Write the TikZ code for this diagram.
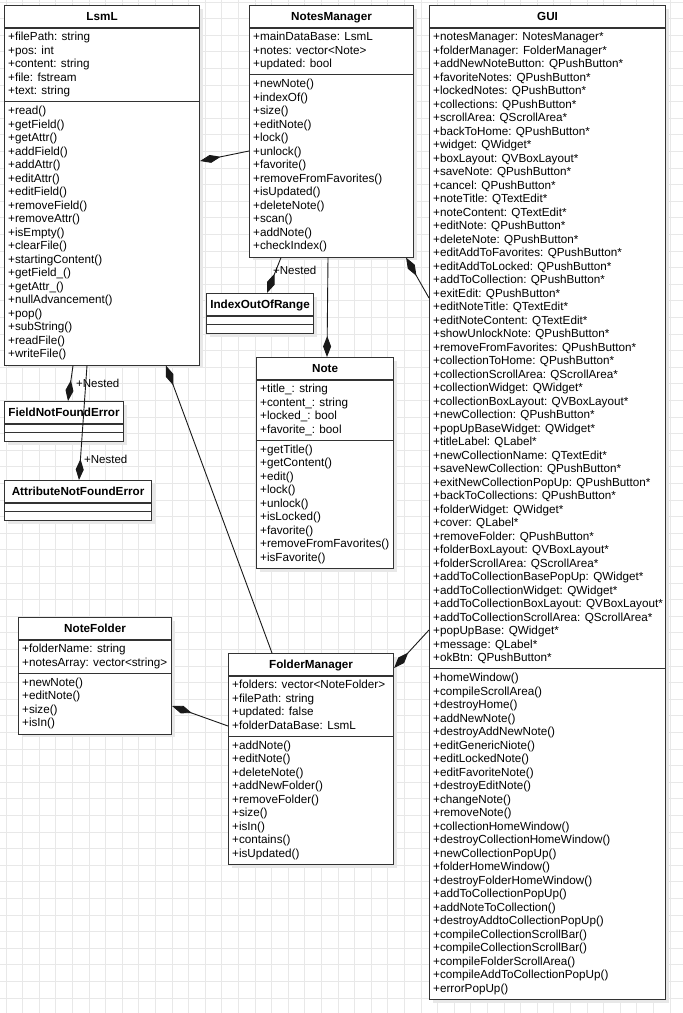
\documentclass[tikz,border=0pt]{standalone}
\usepackage{fontspec}
\setmainfont{Liberation Sans}
\usetikzlibrary{arrows.meta,shadows}

\tikzset{
  gridline/.style={draw=black!9, line width=0.7pt},
  classbox/.style={draw=black!80, line width=1.1pt, fill=white, anchor=north west,
    inner sep=0pt, drop shadow={shadow xshift=3pt, shadow yshift=-3pt, fill=black!9, opacity=1}},
  sepline/.style={draw=black!80, line width=1.1pt},
  member/.style={font=\fontsize{11.7pt}{13.5pt}\selectfont, inner sep=0pt, anchor=base west, text=black},
  classtitle/.style={font=\fontsize{11.7pt}{13.5pt}\selectfont\bfseries, inner sep=0pt, anchor=base, text=black},
  compose/.style={draw=black!90, line width=0.9pt, -{Diamond[length=21pt, width=8pt]}},
  tag/.style={font=\fontsize{11.5pt}{13.5pt}\selectfont, inner sep=0pt, anchor=west, text=black},
}

% UML class: name, x, y, width, title, attributes, operations
\newcommand\umlclass[7]{%
  \foreach \entry [count=\i] in {#6} {\xdef\umlna{\i}}%
  \foreach \entry [count=\i] in {#7} {\xdef\umlnm{\i}}%
  \pgfmathsetmacro\umlha{\umlna*13.5+6.25}%
  \pgfmathsetmacro\umlhm{\umlnm*13.5+6.25}%
  \pgfmathsetmacro\umlht{23+\umlha+\umlhm}%
  \node[classbox, minimum width=#4pt, minimum height=\umlht pt] (#1) at (#2,#3) {};
  \node[classtitle] (#1-title) at ([yshift=-15.5pt]#1.north) {#5};
  \draw[sepline] ([yshift=-23pt]#1.north west) -- ([yshift=-23pt]#1.north east);
  \draw[sepline] ([yshift={-(23+\umlha)}]#1.north west) -- ([yshift={-(23+\umlha)}]#1.north east);
  \foreach \entry [count=\i] in {#6}
    \node[member] (#1-a\i) at ([xshift=4pt, yshift={-(35.75+(\i-1)*13.5)}]#1.north west) {\entry};
  \foreach \entry [count=\i] in {#7}
    \node[member] (#1-m\i) at ([xshift=4pt, yshift={-(35.75+\umlha+(\i-1)*13.5)}]#1.north west) {\entry};
}

% UML class with empty compartments: name, x, y, width, title
\newcommand\umlempty[5]{%
  \node[classbox, minimum width=#4pt, minimum height=40pt] (#1) at (#2,#3) {};
  \node[classtitle] (#1-title) at ([yshift=-15.5pt]#1.north) {#5};
  \draw[sepline] ([yshift=-23pt]#1.north west) -- ([yshift=-23pt]#1.north east);
  \draw[sepline] ([yshift=-31.5pt]#1.north west) -- ([yshift=-31.5pt]#1.north east);
}

\begin{document}
\begin{tikzpicture}[x=1pt, y=-1pt]
\useasboundingbox (0,0) rectangle (683,1013);
\fill[white] (0,0) rectangle (683,1013);

% background grid
\foreach \k in {0,...,40} \draw[gridline] (6+\k*16.6, 0) -- (6+\k*16.6, 1013);
\foreach \k in {0,...,60} \draw[gridline] (0, 2+\k*16.6) -- (683, 2+\k*16.6);

\umlclass{lsml}{4}{5}{195}{LsmL}
  {+filePath: string, +pos: int, +content: string, +file: fstream, +text: string}
  {+read(), +getField(), +getAttr(), +addField(), +addAttr(), +editAttr(), +editField(),
   +removeField(), +removeAttr(), +isEmpty(), +clearFile(), +startingContent(),
   +getField\_(), +getAttr\_(), +nullAdvancement(), +pop(), +subString(), +readFile(), +writeFile()}

\umlclass{nm}{249}{5}{164}{NotesManager}
  {+mainDataBase: LsmL, +notes: vector<Note>, +updated: bool}
  {+newNote(), +indexOf(), +size(), +editNote(), +lock(), +unlock(), +favorite(),
   +removeFromFavorites(), +isUpdated(), +deleteNote(), +scan(), +addNote(), +checkIndex()}

\umlclass{gui}{429}{5}{236}{GUI}
  {+notesManager: NotesManager*, +folderManager: FolderManager*,
   +addNewNoteButton: QPushButton*, +favoriteNotes: QPushButton*, +lockedNotes: QPushButton*,
   +collections: QPushButton*, +scrollArea: QScrollArea*, +backToHome: QPushButton*,
   +widget: QWidget*, +boxLayout: QVBoxLayout*, +saveNote: QPushButton*, +cancel: QPushButton*,
   +noteTitle: QTextEdit*, +noteContent: QTextEdit*, +editNote: QPushButton*,
   +deleteNote: QPushButton*, +editAddToFavorites: QPushButton*, +editAddToLocked: QPushButton*,
   +addToCollection: QPushButton*, +exitEdit: QPushButton*, +editNoteTitle: QTextEdit*,
   +editNoteContent: QTextEdit*, +showUnlockNote: QPushButton*, +removeFromFavorites: QPushButton*,
   +collectionToHome: QPushButton*, +collectionScrollArea: QScrollArea*,
   +collectionWidget: QWidget*, +collectionBoxLayout: QVBoxLayout*, +newCollection: QPushButton*,
   +popUpBaseWidget: QWidget*, +titleLabel: QLabel*, +newCollectionName: QTextEdit*,
   +saveNewCollection: QPushButton*, +exitNewCollectionPopUp: QPushButton*,
   +backToCollections: QPushButton*, +folderWidget: QWidget*, +cover: QLabel*,
   +removeFolder: QPushButton*, +folderBoxLayout: QVBoxLayout*, +folderScrollArea: QScrollArea*,
   +addToCollectionBasePopUp: QWidget*, +addToCollectionWidget: QWidget*,
   +addToCollectionBoxLayout: QVBoxLayout*, +addToCollectionScrollArea: QScrollArea*,
   +popUpBase: QWidget*, +message: QLabel*, +okBtn: QPushButton*}
  {+homeWindow(), +compileScrollArea(), +destroyHome(), +addNewNote(), +destroyAddNewNote(),
   +editGenericNiote(), +editLockedNote(), +editFavoriteNote(), +destroyEditNote(),
   +changeNote(), +removeNote(), +collectionHomeWindow(), +destroyCollectionHomeWindow(),
   +newCollectionPopUp(), +folderHomeWindow(), +destroyFolderHomeWindow(),
   +addToCollectionPopUp(), +addNoteToCollection(), +destroyAddtoCollectionPopUp(),
   +compileCollectionScrollBar(), +compileCollectionScrollBar(), +compileFolderScrollArea(),
   +compileAddToCollectionPopUp(), +errorPopUp()}

\umlclass{note}{256}{357}{137}{Note}
  {+title\_: string, +content\_: string, +locked\_: bool, +favorite\_: bool}
  {+getTitle(), +getContent(), +edit(), +lock(), +unlock(), +isLocked(), +favorite(),
   +removeFromFavorites(), +isFavorite()}

\umlclass{notefolder}{18}{617}{153}{NoteFolder}
  {+folderName: string, +notesArray: vector<string>}
  {+newNote(), +editNote(), +size(), +isIn()}

\umlclass{fm}{228}{653}{165}{FolderManager}
  {+folders: vector<NoteFolder>, +filePath: string, +updated: false, +folderDataBase: LsmL}
  {+addNote(), +editNote(), +deleteNote(), +addNewFolder(), +removeFolder(), +size(),
   +isIn(), +contains(), +isUpdated()}

\umlempty{idx}{206}{293}{107}{IndexOutOfRange}
\umlempty{fnf}{4}{401}{119}{FieldNotFoundError}
\umlempty{anf}{4}{480}{147}{AttributeNotFoundError}

% compositions (diamond on the owning side)
\draw[compose] ([yshift=-146pt]nm.north west) -- ([yshift=-156pt]lsml.north east);
\draw[compose] ([xshift=32pt]nm.south west) -- ([xshift=61pt]idx.north west);
\node[tag] (nested-idx) at ([xshift=24pt, yshift=-13pt]nm.south west) {+Nested};
\draw[compose] ([xshift=79pt]nm.south west) -- ([xshift=71pt]note.north west);
\draw[compose] ([yshift=-293pt]gui.north west) -- ([xshift=-8pt]nm.south east);
\draw[compose] ([xshift=69pt]lsml.south west) -- ([xshift=64pt]fnf.north west);
\node[tag] (nested-fnf) at ([xshift=72pt, yshift=-18pt]lsml.south west) {+Nested};
\draw[compose] ([xshift=83pt]lsml.south west) -- ([xshift=75pt]anf.north west);
\node[tag] (nested-anf) at ([xshift=80pt, yshift=-94pt]lsml.south west) {+Nested};
\draw[compose] ([xshift=44pt]fm.north west) -- ([xshift=162pt]lsml.south west);
\draw[compose] ([yshift=-625pt]gui.north west) -- ([yshift=-15pt]fm.north east);
\draw[compose] ([yshift=-73pt]fm.north west) -- ([yshift=-89pt]notefolder.north east);
\end{tikzpicture}
\end{document}
